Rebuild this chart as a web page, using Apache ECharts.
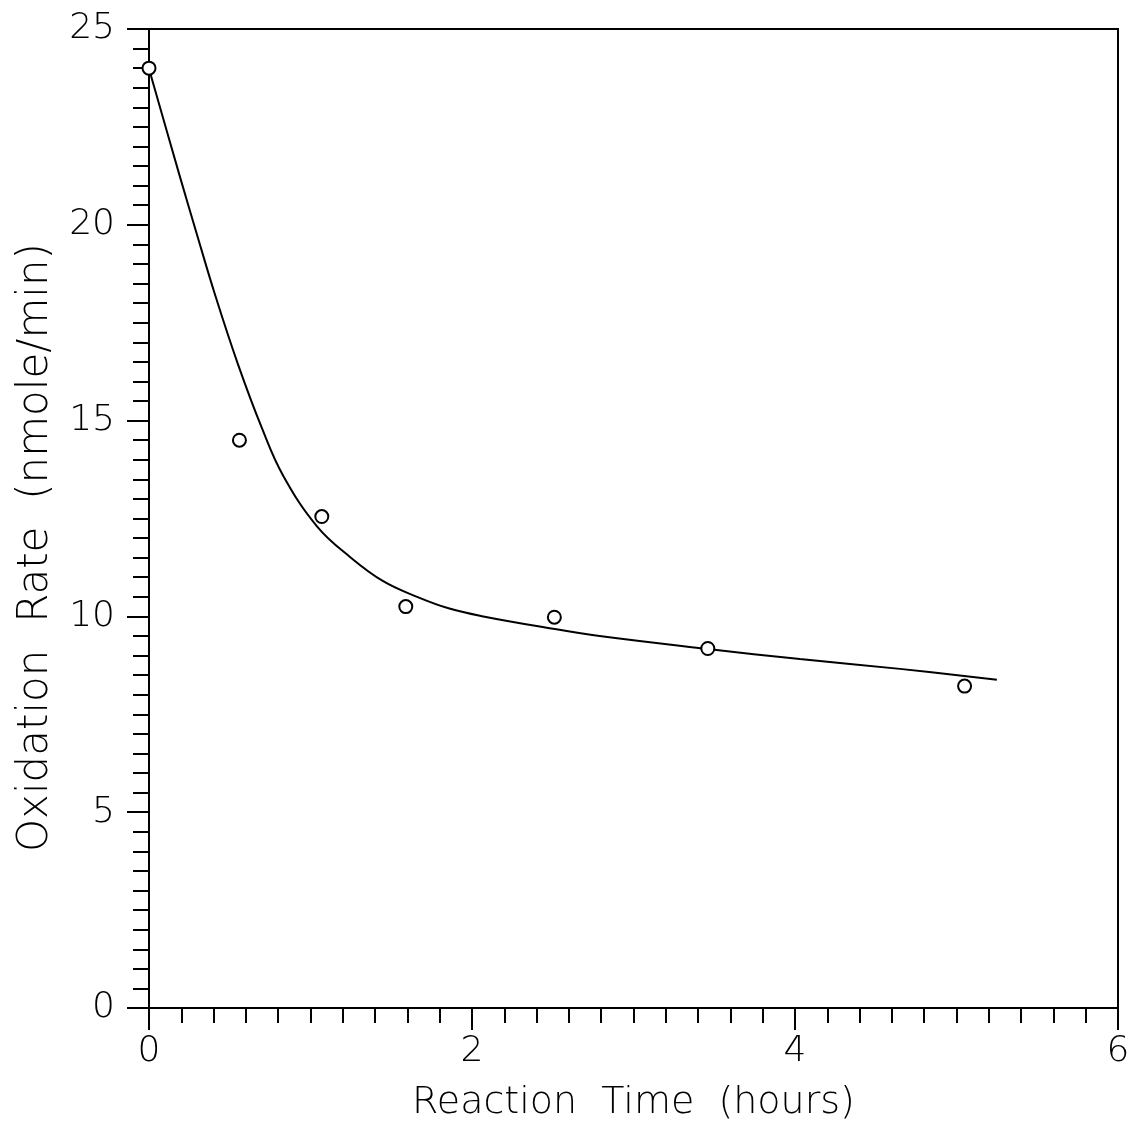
<!DOCTYPE html>
<html>
<head>
<meta charset="utf-8">
<title>Oxidation rate vs reaction time</title>
<script src="https://cdn.jsdelivr.net/npm/echarts@6/dist/echarts.min.js"></script>
<style>
  html, body { margin: 0; padding: 0; background: #fff; }
  #chart { width: 1133px; height: 1123px; }
</style>
</head>
<body>
<div id="chart"></div>
<script>
// measured points
const timeHours = [0.0, 0.56, 1.07, 1.59, 2.51, 3.46, 5.05];
const oxidationRate = [24.0, 14.5, 12.55, 10.25, 9.98, 9.18, 8.22];

// fitted curve
const fitTime = [0.0, 0.03, 0.19, 0.29, 0.41, 0.55, 0.70, 0.83, 1.04, 1.25, 1.45, 1.66, 1.86, 2.07, 2.48, 2.79, 3.46, 4.03, 4.65, 5.25];
const fitRate = [24.0, 23.55, 21.25, 19.85, 18.2, 16.45, 14.8, 13.6, 12.3, 11.5, 10.9, 10.5, 10.2, 10.0, 9.7, 9.5, 9.17, 8.91, 8.66, 8.38];

const xRange = [0, 6];
const yRange = [0, 25];

const font = '"DejaVu Sans", sans-serif';
const ink = '#000';

const chart = echarts.init(document.getElementById('chart'));

chart.setOption({
    animation: false,
    backgroundColor: '#fff',
    grid: {
        left: 149, right: 15, top: 29, bottom: 115,
        containLabel: false,
        outerBoundsMode: 'none',
        show: true, borderColor: ink, borderWidth: 2
    },
    xAxis: {
        type: 'value',
        min: xRange[0], max: xRange[1], interval: 2,
        name: 'Reaction  Time  (hours)',
        nameLocation: 'middle',
        nameGap: 76,
        nameTextStyle: { fontFamily: font, fontSize: 38, fontWeight: 200, color: ink },
        axisLine: { lineStyle: { color: ink, width: 2 } },
        axisTick: { length: 22, lineStyle: { color: ink, width: 2 } },
        minorTick: { show: true, splitNumber: 10, length: 15, lineStyle: { color: ink, width: 2 } },
        axisLabel: { margin: 26, fontFamily: font, fontSize: 36, fontWeight: 200, color: ink },
        splitLine: { show: false }
    },
    yAxis: {
        type: 'value',
        min: yRange[0], max: yRange[1], interval: 5,
        name: 'Oxidation  Rate  (nmole/min)',
        nameLocation: 'middle',
        nameGap: 92,
        nameTextStyle: { fontFamily: font, fontSize: 42, fontWeight: 200, color: ink, padding: [0, 58, 0, 0] },
        axisLine: { lineStyle: { color: ink, width: 2 } },
        axisTick: { length: 22, lineStyle: { color: ink, width: 2 } },
        minorTick: { show: true, splitNumber: 10, length: 16, lineStyle: { color: ink, width: 2 } },
        axisLabel: { margin: 34, fontFamily: font, fontSize: 36, fontWeight: 200, color: ink },
        splitLine: { show: false }
    },
    series: [
        {
            name: 'fit',
            type: 'line',
            data: fitTime.map((t, i) => [t, fitRate[i]]),
            showSymbol: false,
            smooth: 0.4,
            lineStyle: { color: ink, width: 2 },
            z: 2
        },
        {
            name: 'measured',
            type: 'scatter',
            data: timeHours.map((t, i) => [t, oxidationRate[i]]),
            symbol: 'circle',
            symbolSize: 13,
            itemStyle: { color: '#fff', borderColor: ink, borderWidth: 2, opacity: 1 },
            z: 3
        }
    ]
});
</script>
</body>
</html>
